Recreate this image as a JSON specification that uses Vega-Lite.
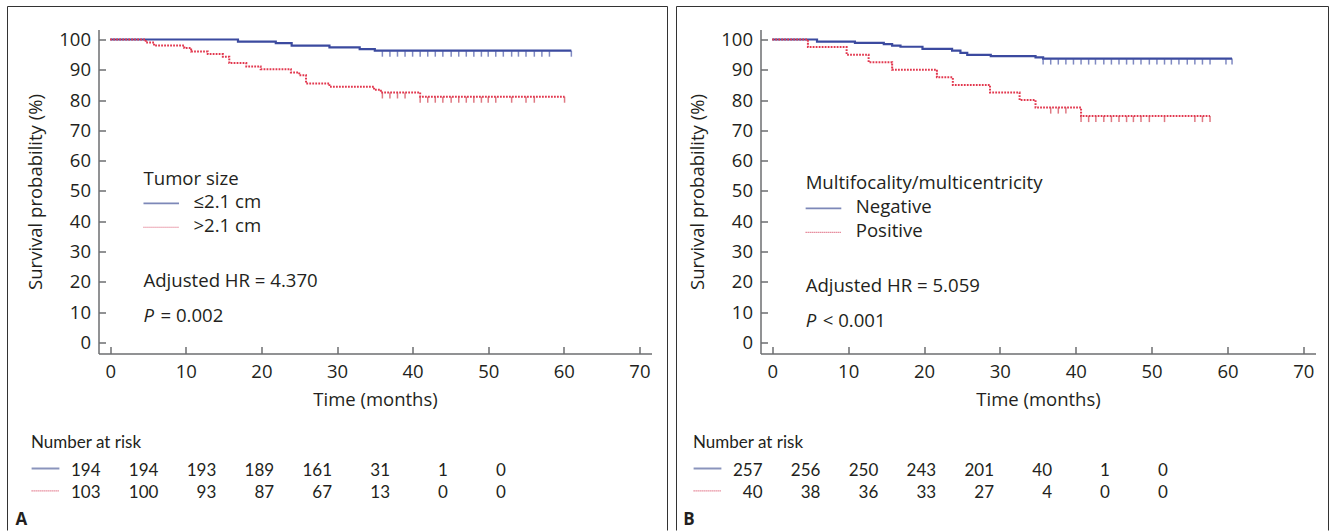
{
"$schema":"https://vega.github.io/schema/vega-lite/v6.json",
"background":"white",
"padding":{"left":6.5,"top":5.5,"right":0,"bottom":0},
"autosize":{"type":"pad"},
"bounds":"flush",
"spacing":109,
"datasets":{
"kmA":[
{"g":"a","t":0,"s":100},{"g":"a","t":16.9,"s":99.3},{"g":"a","t":21.9,"s":98.8},{"g":"a","t":24.0,"s":98.0},{"g":"a","t":29.0,"s":97.4},{"g":"a","t":33.0,"s":96.8},{"g":"a","t":35.0,"s":96.3},{"g":"a","t":61.0,"s":96.3},
{"g":"b","t":0,"s":100},{"g":"b","t":4.7,"s":99.0},{"g":"b","t":5.8,"s":98.0},{"g":"b","t":9.8,"s":97.2},{"g":"b","t":10.7,"s":96.0},{"g":"b","t":12.9,"s":95.2},{"g":"b","t":14.9,"s":94.3},{"g":"b","t":15.75,"s":92.2},{"g":"b","t":18.0,"s":91.1},{"g":"b","t":19.9,"s":90.2},{"g":"b","t":23.9,"s":89.1},{"g":"b","t":25.0,"s":88.2},{"g":"b","t":25.9,"s":85.5},{"g":"b","t":29.0,"s":84.4},{"g":"b","t":34.9,"s":83.4},{"g":"b","t":35.8,"s":82.5},{"g":"b","t":41.0,"s":81.1},{"g":"b","t":60.1,"s":81.1}],
"censA":[
{"g":"a","t":36,"s":96.3},{"g":"a","t":37,"s":96.3},{"g":"a","t":38,"s":96.3},{"g":"a","t":39,"s":96.3},{"g":"a","t":40,"s":96.3},{"g":"a","t":41,"s":96.3},{"g":"a","t":42,"s":96.3},{"g":"a","t":43,"s":96.3},{"g":"a","t":44,"s":96.3},{"g":"a","t":45.1,"s":96.3},{"g":"a","t":46.1,"s":96.3},{"g":"a","t":47.1,"s":96.3},{"g":"a","t":48.1,"s":96.3},{"g":"a","t":49.1,"s":96.3},{"g":"a","t":50,"s":96.3},{"g":"a","t":51,"s":96.3},{"g":"a","t":52,"s":96.3},{"g":"a","t":53.1,"s":96.3},{"g":"a","t":54,"s":96.3},{"g":"a","t":55,"s":96.3},{"g":"a","t":56.1,"s":96.3},{"g":"a","t":57.1,"s":96.3},{"g":"a","t":58.1,"s":96.3},{"g":"a","t":61.0,"s":96.3},
{"g":"b","t":36,"s":82.5},{"g":"b","t":37,"s":82.5},{"g":"b","t":38,"s":82.5},{"g":"b","t":39,"s":82.5},{"g":"b","t":41,"s":81.1},{"g":"b","t":42,"s":81.1},{"g":"b","t":43,"s":81.1},{"g":"b","t":44,"s":81.1},{"g":"b","t":45.1,"s":81.1},{"g":"b","t":46.1,"s":81.1},{"g":"b","t":47.1,"s":81.1},{"g":"b","t":48.1,"s":81.1},{"g":"b","t":49.1,"s":81.1},{"g":"b","t":50,"s":81.1},{"g":"b","t":51,"s":81.1},{"g":"b","t":53.1,"s":81.1},{"g":"b","t":55,"s":81.1},{"g":"b","t":56.1,"s":81.1},{"g":"b","t":60.1,"s":81.1}],
"kmB":[
{"g":"a","t":0,"s":100},{"g":"a","t":5.9,"s":99.3},{"g":"a","t":10.9,"s":98.9},{"g":"a","t":14.7,"s":98.5},{"g":"a","t":15.8,"s":98.0},{"g":"a","t":16.9,"s":97.6},{"g":"a","t":19.8,"s":96.9},{"g":"a","t":23.7,"s":96.3},{"g":"a","t":24.8,"s":95.6},{"g":"a","t":25.7,"s":94.9},{"g":"a","t":28.8,"s":94.5},{"g":"a","t":34.7,"s":94.1},{"g":"a","t":35.7,"s":93.7},{"g":"a","t":60.6,"s":93.7},
{"g":"b","t":0,"s":100},{"g":"b","t":4.7,"s":97.5},{"g":"b","t":9.8,"s":95.0},{"g":"b","t":12.7,"s":92.5},{"g":"b","t":15.8,"s":90.0},{"g":"b","t":21.7,"s":87.5},{"g":"b","t":23.8,"s":85.0},{"g":"b","t":28.7,"s":82.5},{"g":"b","t":32.6,"s":80.0},{"g":"b","t":34.7,"s":77.5},{"g":"b","t":40.7,"s":74.7},{"g":"b","t":57.7,"s":74.7}],
"censB":[
{"g":"a","t":35.7,"s":93.7},{"g":"a","t":36.7,"s":93.7},{"g":"a","t":37.7,"s":93.7},{"g":"a","t":38.7,"s":93.7},{"g":"a","t":39.7,"s":93.7},{"g":"a","t":40.7,"s":93.7},{"g":"a","t":41.7,"s":93.7},{"g":"a","t":42.6,"s":93.7},{"g":"a","t":43.7,"s":93.7},{"g":"a","t":44.7,"s":93.7},{"g":"a","t":45.7,"s":93.7},{"g":"a","t":46.7,"s":93.7},{"g":"a","t":47.6,"s":93.7},{"g":"a","t":48.6,"s":93.7},{"g":"a","t":49.7,"s":93.7},{"g":"a","t":50.7,"s":93.7},{"g":"a","t":51.7,"s":93.7},{"g":"a","t":52.6,"s":93.7},{"g":"a","t":53.6,"s":93.7},{"g":"a","t":54.7,"s":93.7},{"g":"a","t":55.7,"s":93.7},{"g":"a","t":56.7,"s":93.7},{"g":"a","t":57.7,"s":93.7},{"g":"a","t":59.8,"s":93.7},{"g":"a","t":60.6,"s":93.7},
{"g":"b","t":36.7,"s":77.5},{"g":"b","t":37.7,"s":77.5},{"g":"b","t":38.7,"s":77.5},{"g":"b","t":40.7,"s":74.7},{"g":"b","t":41.7,"s":74.7},{"g":"b","t":42.65,"s":74.7},{"g":"b","t":43.7,"s":74.7},{"g":"b","t":44.7,"s":74.7},{"g":"b","t":45.7,"s":74.7},{"g":"b","t":46.7,"s":74.7},{"g":"b","t":47.6,"s":74.7},{"g":"b","t":48.6,"s":74.7},{"g":"b","t":49.7,"s":74.7},{"g":"b","t":51.7,"s":74.7},{"g":"b","t":55.7,"s":74.7},{"g":"b","t":56.7,"s":74.7},{"g":"b","t":57.7,"s":74.7}],
"legA":[{"g":"a","t":4.4,"t2":9.1,"s":45.9},{"g":"b","t":4.4,"t2":9.1,"s":38.0}],
"legB":[{"g":"a","t":4.4,"t2":9.1,"s":44.2},{"g":"b","t":4.4,"t2":9.1,"s":36.3}],
"annA":[{"t":4.4,"s":52.1,"label":"Tumor size"},{"t":11.0,"s":44.3,"label":"≤2.1 cm"},{"t":11.0,"s":36.4,"label":">2.1 cm"},{"t":4.4,"s":18.2,"label":"Adjusted HR = 4.370"},{"t":6.65,"s":6.6,"label":"= 0.002"}],
"pA":[{"t":4.4,"s":6.6,"label":"P"}],
"annB":[{"t":4.4,"s":50.5,"label":"Multifocality/multicentricity"},{"t":11.0,"s":42.7,"label":"Negative"},{"t":11.0,"s":34.8,"label":"Positive"},{"t":4.4,"s":16.6,"label":"Adjusted HR = 5.059"},{"t":6.65,"s":4.9,"label":"< 0.001"}],
"pB":[{"t":4.4,"s":4.9,"label":"P"}],
"riskA":[
{"g":"a","t":0,"row":1,"n":194},{"g":"a","t":10,"row":1,"n":194},{"g":"a","t":20,"row":1,"n":193},{"g":"a","t":30,"row":1,"n":189},{"g":"a","t":40,"row":1,"n":161},{"g":"a","t":50,"row":1,"n":31},{"g":"a","t":60,"row":1,"n":1},{"g":"a","t":70,"row":1,"n":0},
{"g":"b","t":0,"row":2,"n":103},{"g":"b","t":10,"row":2,"n":100},{"g":"b","t":20,"row":2,"n":93},{"g":"b","t":30,"row":2,"n":87},{"g":"b","t":40,"row":2,"n":67},{"g":"b","t":50,"row":2,"n":13},{"g":"b","t":60,"row":2,"n":0},{"g":"b","t":70,"row":2,"n":0}],
"riskB":[
{"g":"a","t":0,"row":1,"n":257},{"g":"a","t":10,"row":1,"n":256},{"g":"a","t":20,"row":1,"n":250},{"g":"a","t":30,"row":1,"n":243},{"g":"a","t":40,"row":1,"n":201},{"g":"a","t":50,"row":1,"n":40},{"g":"a","t":60,"row":1,"n":1},{"g":"a","t":70,"row":1,"n":0},
{"g":"b","t":0,"row":2,"n":40},{"g":"b","t":10,"row":2,"n":38},{"g":"b","t":20,"row":2,"n":36},{"g":"b","t":30,"row":2,"n":33},{"g":"b","t":40,"row":2,"n":27},{"g":"b","t":50,"row":2,"n":4},{"g":"b","t":60,"row":2,"n":0},{"g":"b","t":70,"row":2,"n":0}],
"riskHead":[{"t":-12,"row":0,"label":"Number at risk"}],
"riskLeg":[{"g":"a","t":-11.9,"t2":-7.1,"row":1},{"g":"b","t":-11.9,"t2":-7.1,"row":2}],
"frame":[{"x":0,"y":0,"x2":0,"y2":1},{"x":0,"y":0,"x2":1,"y2":0},{"x":1,"y":0,"x2":1,"y2":1}],
"tagA":[{"x":0.012,"y":0.989,"label":"A"}],
"tagB":[{"x":0.0103,"y":0.989,"label":"B"}]
},
"hconcat":[
{
"width":553,"height":324,
"resolve":{"scale":{"x":"independent","y":"independent"}},
"layer":[
{"layer":[
{"data":{"name":"kmA"},"transform":[{"filter":"datum.g==='a'"}],
 "mark":{"type":"line","interpolate":"step-after","color":"#3b4a9f","strokeWidth":2.2},
 "encoding":{
  "x":{"field":"t","type":"quantitative","scale":{"domain":[-1.55,71.6],"nice":false,"zero":false},
   "axis":{"title":"Time (months)","values":[0,5,10,15,20,25,30,35,40,45,50,55,60,65,70],"labelExpr":"datum.value % 10 === 0 ? datum.label : ''","tickSize":{"condition":{"test":"datum.value % 10 === 0","value":-7},"value":-3.5},"labelPadding":16,"titlePadding":9,"labelOverlap":false}},
  "y":{"field":"s","type":"quantitative","scale":{"domain":[-3.7,103.3],"nice":false,"zero":false},
   "axis":{"title":"Survival probability (%)","values":[0,10,20,30,40,50,60,70,80,90,100],"tickCount":11,"tickSize":-7,"labelPadding":15,"titlePadding":13,"labelOverlap":false}}}},
{"data":{"name":"kmA"},"transform":[{"filter":"datum.g==='b'"}],
 "mark":{"type":"line","interpolate":"step-after","color":"#e2384f","strokeWidth":2,"strokeDash":[1.8,1.2]},
 "encoding":{"x":{"field":"t","type":"quantitative"},"y":{"field":"s","type":"quantitative"}}},
{"data":{"name":"censA"},"transform":[{"filter":"datum.g==='a'"}],
 "mark":{"type":"tick","orient":"vertical","color":"#4a59a8","size":6,"thickness":1.5,"yOffset":3},
 "encoding":{"x":{"field":"t","type":"quantitative"},"y":{"field":"s","type":"quantitative"}}},
{"data":{"name":"censA"},"transform":[{"filter":"datum.g==='b'"}],
 "mark":{"type":"tick","orient":"vertical","color":"#d2404f","size":6,"thickness":1.5,"yOffset":3},
 "encoding":{"x":{"field":"t","type":"quantitative"},"y":{"field":"s","type":"quantitative"}}},
{"data":{"name":"legA"},"transform":[{"filter":"datum.g==='a'"}],
 "mark":{"type":"rule","color":"#7d88b8","strokeWidth":1.8},
 "encoding":{"x":{"field":"t","type":"quantitative"},"x2":{"field":"t2"},"y":{"field":"s","type":"quantitative"}}},
{"data":{"name":"legA"},"transform":[{"filter":"datum.g==='b'"}],
 "mark":{"type":"rule","color":"#d9506a","strokeWidth":1.2,"strokeDash":[1,1]},
 "encoding":{"x":{"field":"t","type":"quantitative"},"x2":{"field":"t2"},"y":{"field":"s","type":"quantitative"}}},
{"data":{"name":"annA"},
 "mark":{"type":"text","align":"left","baseline":"alphabetic"},
 "encoding":{"x":{"field":"t","type":"quantitative"},"y":{"field":"s","type":"quantitative"},"text":{"field":"label"}}},
{"data":{"name":"pA"},
 "mark":{"type":"text","align":"left","baseline":"alphabetic","fontStyle":"italic"},
 "encoding":{"x":{"field":"t","type":"quantitative"},"y":{"field":"s","type":"quantitative"},"text":{"field":"label"}}}
]},
{"layer":[
{"data":{"name":"riskA"},
 "mark":{"type":"text","align":"right","baseline":"alphabetic","font":"Lato","fontSize":17},
 "encoding":{"x":{"field":"t","type":"quantitative","axis":null,"scale":{"domain":[0,70],"range":[2,407.3],"nice":false,"zero":false}},
  "y":{"field":"row","type":"quantitative","axis":null,"scale":{"domain":[1,2],"range":[446,468.3],"nice":false,"zero":false}},
  "text":{"field":"n"}}},
{"data":{"name":"riskHead"},
 "mark":{"type":"text","align":"left","baseline":"alphabetic","dy":-5,"font":"Lato","fontSize":17},
 "encoding":{"x":{"field":"t","type":"quantitative","axis":null},"y":{"field":"row","type":"quantitative","axis":null},"text":{"field":"label"}}},
{"data":{"name":"riskLeg"},"transform":[{"filter":"datum.g==='a'"}],
 "mark":{"type":"rule","color":"#8a94bc","strokeWidth":2,"yOffset":-7},
 "encoding":{"x":{"field":"t","type":"quantitative","axis":null},"x2":{"field":"t2"},"y":{"field":"row","type":"quantitative","axis":null}}},
{"data":{"name":"riskLeg"},"transform":[{"filter":"datum.g==='b'"}],
 "mark":{"type":"rule","color":"#d9506a","strokeWidth":1.2,"strokeDash":[1,1],"yOffset":-7},
 "encoding":{"x":{"field":"t","type":"quantitative","axis":null},"x2":{"field":"t2"},"y":{"field":"row","type":"quantitative","axis":null}}}
]},
{"layer":[
{"data":{"name":"frame"},
 "mark":{"type":"rule","color":"#333333","strokeWidth":1},
 "encoding":{"x":{"field":"x","type":"quantitative","axis":null,"scale":{"domain":[0,1],"range":[-91,569],"nice":false,"zero":false}},"x2":{"field":"x2"},
  "y":{"field":"y","type":"quantitative","axis":null,"scale":{"domain":[0,1],"range":[-23,501],"nice":false,"zero":false}},"y2":{"field":"y2"}}},
{"data":{"name":"tagA"},
 "mark":{"type":"text","align":"left","baseline":"alphabetic","fontWeight":"bold","font":"Open Sans","fontSize":17},
 "encoding":{"x":{"field":"x","type":"quantitative","axis":null},"y":{"field":"y","type":"quantitative","axis":null},"text":{"field":"label"}}}
]}
]
},
{
"width":555,"height":324,
"resolve":{"scale":{"x":"independent","y":"independent"}},
"layer":[
{"layer":[
{"data":{"name":"kmB"},"transform":[{"filter":"datum.g==='a'"}],
 "mark":{"type":"line","interpolate":"step-after","color":"#3b4a9f","strokeWidth":2.2},
 "encoding":{
  "x":{"field":"t","type":"quantitative","scale":{"domain":[-1.55,71.6],"nice":false,"zero":false},
   "axis":{"title":"Time (months)","values":[0,5,10,15,20,25,30,35,40,45,50,55,60,65,70],"labelExpr":"datum.value % 10 === 0 ? datum.label : ''","tickSize":{"condition":{"test":"datum.value % 10 === 0","value":-7},"value":-3.5},"labelPadding":16,"titlePadding":9,"labelOverlap":false}},
  "y":{"field":"s","type":"quantitative","scale":{"domain":[-3.7,103.3],"nice":false,"zero":false},
   "axis":{"title":"Survival probability (%)","values":[0,10,20,30,40,50,60,70,80,90,100],"tickCount":11,"tickSize":-7,"labelPadding":15,"titlePadding":13,"labelOverlap":false}}}},
{"data":{"name":"kmB"},"transform":[{"filter":"datum.g==='b'"}],
 "mark":{"type":"line","interpolate":"step-after","color":"#e2384f","strokeWidth":2,"strokeDash":[1.8,1.2]},
 "encoding":{"x":{"field":"t","type":"quantitative"},"y":{"field":"s","type":"quantitative"}}},
{"data":{"name":"censB"},"transform":[{"filter":"datum.g==='a'"}],
 "mark":{"type":"tick","orient":"vertical","color":"#4a59a8","size":6,"thickness":1.5,"yOffset":3},
 "encoding":{"x":{"field":"t","type":"quantitative"},"y":{"field":"s","type":"quantitative"}}},
{"data":{"name":"censB"},"transform":[{"filter":"datum.g==='b'"}],
 "mark":{"type":"tick","orient":"vertical","color":"#d2404f","size":6,"thickness":1.5,"yOffset":3},
 "encoding":{"x":{"field":"t","type":"quantitative"},"y":{"field":"s","type":"quantitative"}}},
{"data":{"name":"legB"},"transform":[{"filter":"datum.g==='a'"}],
 "mark":{"type":"rule","color":"#7d88b8","strokeWidth":1.8},
 "encoding":{"x":{"field":"t","type":"quantitative"},"x2":{"field":"t2"},"y":{"field":"s","type":"quantitative"}}},
{"data":{"name":"legB"},"transform":[{"filter":"datum.g==='b'"}],
 "mark":{"type":"rule","color":"#d9506a","strokeWidth":1.2,"strokeDash":[1,1]},
 "encoding":{"x":{"field":"t","type":"quantitative"},"x2":{"field":"t2"},"y":{"field":"s","type":"quantitative"}}},
{"data":{"name":"annB"},
 "mark":{"type":"text","align":"left","baseline":"alphabetic"},
 "encoding":{"x":{"field":"t","type":"quantitative"},"y":{"field":"s","type":"quantitative"},"text":{"field":"label"}}},
{"data":{"name":"pB"},
 "mark":{"type":"text","align":"left","baseline":"alphabetic","fontStyle":"italic"},
 "encoding":{"x":{"field":"t","type":"quantitative"},"y":{"field":"s","type":"quantitative"},"text":{"field":"label"}}}
]},
{"layer":[
{"data":{"name":"riskB"},
 "mark":{"type":"text","align":"right","baseline":"alphabetic","font":"Lato","fontSize":17},
 "encoding":{"x":{"field":"t","type":"quantitative","axis":null,"scale":{"domain":[0,70],"range":[2,407.3],"nice":false,"zero":false}},
  "y":{"field":"row","type":"quantitative","axis":null,"scale":{"domain":[1,2],"range":[446,468.3],"nice":false,"zero":false}},
  "text":{"field":"n"}}},
{"data":{"name":"riskHead"},
 "mark":{"type":"text","align":"left","baseline":"alphabetic","dy":-5,"font":"Lato","fontSize":17},
 "encoding":{"x":{"field":"t","type":"quantitative","axis":null},"y":{"field":"row","type":"quantitative","axis":null},"text":{"field":"label"}}},
{"data":{"name":"riskLeg"},"transform":[{"filter":"datum.g==='a'"}],
 "mark":{"type":"rule","color":"#8a94bc","strokeWidth":2,"yOffset":-7},
 "encoding":{"x":{"field":"t","type":"quantitative","axis":null},"x2":{"field":"t2"},"y":{"field":"row","type":"quantitative","axis":null}}},
{"data":{"name":"riskLeg"},"transform":[{"filter":"datum.g==='b'"}],
 "mark":{"type":"rule","color":"#d9506a","strokeWidth":1.2,"strokeDash":[1,1],"yOffset":-7},
 "encoding":{"x":{"field":"t","type":"quantitative","axis":null},"x2":{"field":"t2"},"y":{"field":"row","type":"quantitative","axis":null}}}
]},
{"layer":[
{"data":{"name":"frame"},
 "mark":{"type":"rule","color":"#333333","strokeWidth":1},
 "encoding":{"x":{"field":"x","type":"quantitative","axis":null,"scale":{"domain":[0,1],"range":[-84,568],"nice":false,"zero":false}},"x2":{"field":"x2"},
  "y":{"field":"y","type":"quantitative","axis":null,"scale":{"domain":[0,1],"range":[-23,501],"nice":false,"zero":false}},"y2":{"field":"y2"}}},
{"data":{"name":"tagB"},
 "mark":{"type":"text","align":"left","baseline":"alphabetic","fontWeight":"bold","font":"Open Sans","fontSize":17},
 "encoding":{"x":{"field":"x","type":"quantitative","axis":null},"y":{"field":"y","type":"quantitative","axis":null},"text":{"field":"label"}}}
]}
]
}
],
"config":{
"view":{"stroke":null},
"axis":{"grid":false,"domainColor":"#6d6e71","domainWidth":1.5,"tickColor":"#6d6e71","tickWidth":1.5,"labelFont":"Open Sans","labelFontSize":18.5,"labelColor":"#231f20","titleFont":"Open Sans","titleFontSize":18.5,"titleFontWeight":"normal","titleColor":"#231f20","labelFlush":false,"labelOverlap":false},
"text":{"font":"Open Sans","fontSize":18.6,"color":"#231f20"}
}
}
